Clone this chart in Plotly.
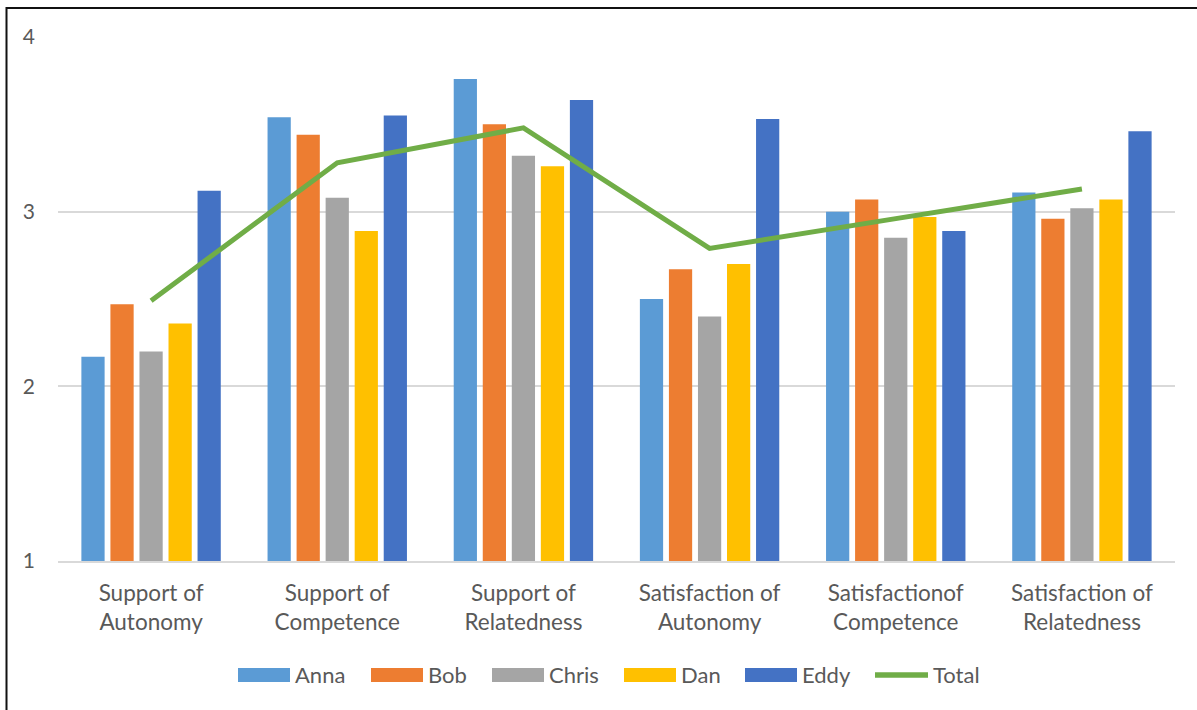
import plotly.graph_objects as go

# Category labels (two-line) and per-person scores
categories = [
    "Support of<br>Autonomy",
    "Support of<br>Competence",
    "Support of<br>Relatedness",
    "Satisfaction of<br>Autonomy",
    "Satisfactionof<br>Competence",
    "Satisfaction of<br>Relatedness",
]
anna = [2.17, 3.54, 3.76, 2.50, 3.00, 3.11]
bob = [2.47, 3.44, 3.50, 2.67, 3.07, 2.96]
chris = [2.20, 3.08, 3.32, 2.40, 2.85, 3.02]
dan = [2.36, 2.89, 3.26, 2.70, 2.97, 3.07]
eddy = [3.12, 3.55, 3.64, 3.53, 2.89, 3.46]
total = [2.49, 3.28, 3.48, 2.79, 2.96, 3.13]

series_names = ["Anna", "Bob", "Chris", "Dan", "Eddy"]
series_values = [anna, bob, chris, dan, eddy]
series_colors = ["#5B9BD5", "#ED7D31", "#A5A5A5", "#FFC000", "#4472C4"]
total_color = "#70AD47"

y_ticks = [1, 2, 3, 4]

W, H = 1197, 710
ML, MR, MT, MB = 58, 22, 37, 149
PW, PH = W - ML - MR, H - MT - MB
FONT = "Lato"
TEXT_COLOR = "#595959"


def px_x(px):
    return (px - ML) / PW


def px_y(py):
    return (H - MB - py) / PH


fig = go.Figure()
for name, vals, col in zip(series_names, series_values, series_colors):
    fig.add_trace(go.Bar(x=categories, y=vals, name=name, marker_color=col,
                         marker_line_width=0, showlegend=False))
fig.add_trace(go.Scatter(x=categories, y=total, name="Total", mode="lines",
                         line=dict(color=total_color, width=5), showlegend=False))

# Legend drawn along the bottom: colour swatches and labels
legend_left = [238, 371, 492, 624, 745, 873]
legend_cy = 675
shapes = []
annotations = []
for name, col, x0 in zip(series_names, series_colors, legend_left[:5]):
    shapes.append(dict(type="rect", xref="paper", yref="paper",
                       x0=px_x(x0), x1=px_x(x0 + 52),
                       y0=px_y(legend_cy - 7), y1=px_y(legend_cy + 7),
                       fillcolor=col, line_width=0))
    annotations.append(dict(text=name, xref="paper", yref="paper",
                            x=px_x(x0 + 55), y=px_y(legend_cy - 1),
                            xanchor="left", yanchor="middle", showarrow=False,
                            font=dict(family=FONT, size=22, color=TEXT_COLOR)))
tx = legend_left[5]
shapes.append(dict(type="line", xref="paper", yref="paper",
                   x0=px_x(tx + 2), x1=px_x(tx + 55),
                   y0=px_y(legend_cy), y1=px_y(legend_cy),
                   line=dict(color=total_color, width=5.5)))
annotations.append(dict(text="Total", xref="paper", yref="paper",
                        x=px_x(tx + 58), y=px_y(legend_cy - 1),
                        xanchor="left", yanchor="middle", showarrow=False,
                        font=dict(family=FONT, size=22, color=TEXT_COLOR)))

# Chart frame
shapes.append(dict(type="rect", xref="paper", yref="paper",
                   x0=px_x(6.5), x1=px_x(1205), y0=px_y(8), y1=px_y(720),
                   line=dict(color="#111111", width=2), fillcolor="rgba(0,0,0,0)",
                   layer="above"))

fig.update_layout(
    width=W, height=H,
    margin=dict(l=ML, r=MR, t=MT, b=MB, pad=0),
    paper_bgcolor="white", plot_bgcolor="white",
    barmode="group", bargap=0.22, bargroupgap=0.2,
    font=dict(family=FONT, size=21, color=TEXT_COLOR),
    showlegend=False,
    shapes=shapes, annotations=annotations,
)
fig.update_yaxes(range=[1, 4], tickvals=y_ticks, showgrid=True,
                 gridcolor="#D9D9D9", gridwidth=1.5, zeroline=False,
                 showline=False, ticks="", ticklabelstandoff=22,
                 tickfont=dict(family=FONT, size=21, color=TEXT_COLOR))
fig.update_xaxes(showline=True, linecolor="#D9D9D9", linewidth=1.5,
                 ticks="", ticklabelstandoff=11, showgrid=False,
                 tickfont=dict(family=FONT, size=22.5, color=TEXT_COLOR))

fig.write_html("out.html")
